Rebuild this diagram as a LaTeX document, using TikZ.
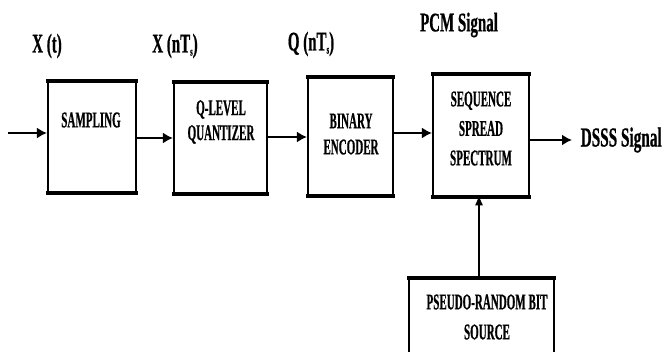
\documentclass[tikz,border=0pt]{standalone}
\usepackage{fontspec}
\setmainfont{Liberation Serif}
\newfontfamily\boxfont[FakeStretch=0.49,FakeBold=0.6]{Liberation Serif}
\newfontfamily\labfont[FakeStretch=0.555,FakeBold=0.6]{Liberation Serif}
\usetikzlibrary{arrows.meta}
\tikzset{
  blk/.style={draw=black, line width=2.2pt, inner sep=0pt, fill=white},
  edge/.style={line width=3.6pt, shorten <=-1.1pt, shorten >=-1.1pt},
  btxt/.style={inner sep=0pt, align=center, font=\boxfont\bfseries\fontsize{22.5}{27}\selectfont},
  ltxt/.style={inner sep=0pt, font=\labfont\bfseries\fontsize{27}{27}\selectfont},
  arr/.style={line width=1.8pt, -{Latex[length=10pt,width=11pt]}},
  varr/.style={line width=1.1pt, -{Latex[length=10pt,width=8pt]}}
}
\newcommand{\subs}{\raisebox{-3pt}{\fontsize{12}{12}\selectfont s}}
\begin{document}
\begin{tikzpicture}[x=1pt,y=-1pt]
\useasboundingbox (0,0) rectangle (664,351);
\clip (0,0) rectangle (664,351);
% blocks
\node[blk, minimum width=88pt, minimum height=110pt] (samp) at (92,137) {};
\node[blk, minimum width=93pt, minimum height=110pt] (quant) at (220.5,138) {};
\node[blk, minimum width=85pt, minimum height=117pt] (bin) at (350.5,136.5) {};
\node[blk, minimum width=96pt, minimum height=121pt] (seq) at (481,135.5) {};
\node[blk, minimum width=145pt, minimum height=80pt] (prn) at (481.5,319) {};
\foreach \n in {samp,quant,bin,seq,prn}{
  \draw[edge] (\n.north west) -- (\n.north east);
  \draw[edge] (\n.south west) -- (\n.south east);
}
% block texts
\node[btxt] (tsamp) at (91,120) {SAMPLING};
\node[btxt, font=\boxfont\bfseries\fontsize{22.5}{25}\selectfont] (tquant) at (221,122) {Q-LEVEL\\QUANTIZER};
\node[btxt, font=\boxfont\bfseries\fontsize{22.5}{26}\selectfont] (tbin) at (351,134) {BINARY\\ENCODER};
\node[btxt, font=\boxfont\bfseries\fontsize{22.5}{29.5}\selectfont] (tseq) at (481,128.5) {SEQUENCE\\SPREAD\\SPECTRUM};
\node[btxt, font=\boxfont\bfseries\fontsize{22.5}{30}\selectfont] (tprn) at (487,317) {PSEUDO-RANDOM BIT\\SOURCE};
% top labels
\node[ltxt] (lxt) at (47,46) {X (t)};
\node[ltxt] (lxn) at (175,46) {X (nT\subs)};
\node[ltxt] (lqn) at (311,44) {Q (nT\subs)};
\node[ltxt] (lpcm) at (459,25) {PCM Signal};
\node[ltxt, font=\labfont\bfseries\fontsize{27.5}{27.5}\selectfont, anchor=west] (ldsss) at (580.5,140) {DSSS Signal};
% connectors
\coordinate (in) at (8,133);
\draw[arr] (in) -- (in -| samp.west);
\draw[arr] ([yshift=-1pt]samp.east) -- ([yshift=-1pt]samp.east -| quant.west);
\draw[arr] ([yshift=1pt]quant.east) -- ([yshift=1pt]quant.east -| bin.west);
\draw[arr] ([yshift=3.5pt]bin.east) -- ([yshift=3.5pt]bin.east -| seq.west);
\coordinate (out) at (572,140);
\draw[arr] (seq.east |- out) -- (out);
\draw[varr] ([yshift=-1.8pt]prn.north -| 479,0) -- ([yshift=1.8pt]seq.south -| 479,0);
\end{tikzpicture}
\end{document}
